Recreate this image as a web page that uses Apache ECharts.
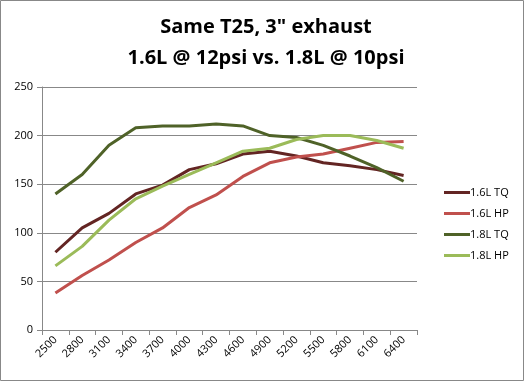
<!DOCTYPE html>
<html><head><meta charset="utf-8">
<script src="https://cdn.jsdelivr.net/npm/echarts@6/dist/echarts.min.js"></script>
<style>html,body{margin:0;padding:0;background:#fff}#c{width:524px;height:381px}</style>
</head><body><div id="c"></div>
<script>
const categories = ['2500','2800','3100','3400','3700','4000','4300','4600','4900','5200','5500','5800','6100','6400'];
const tq16 = [80,105,120,140,149,165,171,181,184,179,172,169,165,159];
const hp16 = [38,56,72,90,105,126,139,158,172,178,181,187,193,194];
const tq18 = [140,160,190,208,210,210,212,210,200,198,190,179,167,153];
const hp18 = [66,86,113,135,148,160,172,184,187,196,200,200,195,187];
const yTicks = [0,50,100,150,200,250];
const seriesNames = ['1.6L TQ','1.6L HP','1.8L TQ','1.8L HP'];
const colors = ['#632523','#C0504D','#4F6228','#9BBB59'];
const chart = echarts.init(document.getElementById('c'));
const font = 'Open Sans, Liberation Sans, sans-serif';
chart.setOption({
  animation:false,
  title:{text:'Same T25, 3" exhaust\n1.6L @ 12psi vs. 1.8L @ 10psi',left:261,top:7,textAlign:'center',
    textStyle:{fontFamily:font,fontSize:20,fontWeight:'bold',color:'#000',lineHeight:31}},
  graphic:[{type:'rect',shape:{x:0.5,y:0.5,width:523,height:380},style:{fill:'none',stroke:'#888',lineWidth:1}}],
  legend:{orient:'vertical',left:439,top:182,itemGap:10,itemWidth:26,itemHeight:14,icon:'path://M0,6H26V9H0Z',
    data:seriesNames,textStyle:{fontFamily:font,fontSize:11,color:'#000',padding:[0,0,0,-5]}},
  grid:{left:42,right:107,top:87,bottom:51},
  xAxis:{type:'category',data:categories,boundaryGap:true,
    axisLine:{lineStyle:{color:'#888'}},axisTick:{show:true,length:5,lineStyle:{color:'#888'}},
    axisLabel:{rotate:45,fontFamily:font,fontSize:11,color:'#000',margin:8,interval:0}},
  yAxis:{type:'value',min:0,max:250,interval:50,
    axisLine:{show:true,lineStyle:{color:'#888'}},axisTick:{show:true,length:5,lineStyle:{color:'#888'}},
    splitLine:{lineStyle:{color:'#888'}},
    axisLabel:{fontFamily:font,fontSize:11,color:'#000',margin:9,
      formatter:v=>yTicks.includes(v)?String(v):''}},
  series:[tq16,hp16,tq18,hp18].map((d,i)=>({name:seriesNames[i],type:'line',data:d,showSymbol:false,symbol:'none',
    lineStyle:{color:colors[i],width:3},itemStyle:{color:colors[i]}}))
});
</script></body></html>
